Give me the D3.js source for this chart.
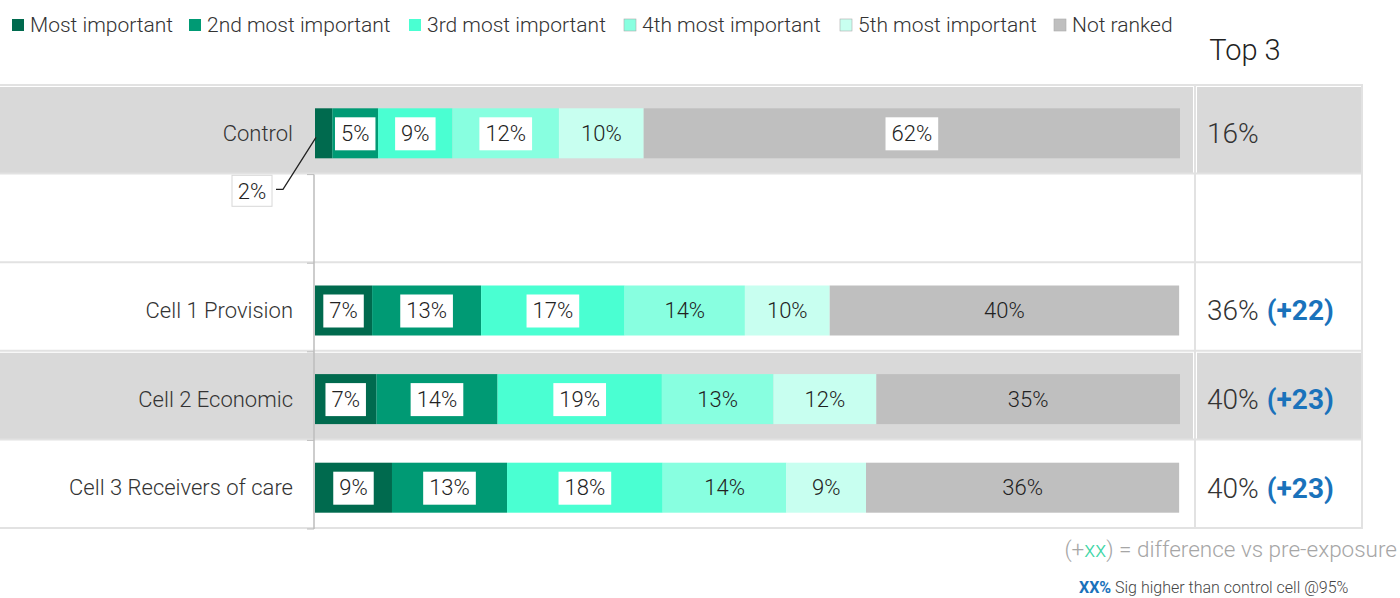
<!DOCTYPE html>
<html><head><meta charset="utf-8">
<script src="https://cdn.jsdelivr.net/npm/d3@7"></script>
<style>
body{margin:0;background:#fff}
svg{display:block}
text{font-family:Roboto,"DejaVu Sans",sans-serif;font-weight:300}
</style>
</head><body><svg id="c" width="1400" height="598"></svg>
<script>
const categories = ["Control", "", "Cell 1 Provision", "Cell 2 Economic", "Cell 3 Receivers of care"];
const seriesNames = ["Most important", "2nd most important", "3rd most important", "4th most important", "5th most important", "Not ranked"];
// shares (%); labels show them rounded
const mostImportant = [2.0, null, 6.6, 7.1, 8.9];
const secondImportant = [5.3, null, 12.6, 14.0, 13.3];
const thirdImportant = [8.6, null, 16.6, 19.0, 18.0];
const fourthImportant = [12.3, null, 13.9, 12.9, 14.3];
const fifthImportant = [9.8, null, 9.8, 11.9, 9.2];
const notRanked = [62.0, null, 40.4, 35.1, 36.2];
const top3Values = ["16%", "", "36%", "40%", "40%"];
const top3Diff = ["", "", "(+22)", "(+23)", "(+23)"];
const shadedRows = [0, 3];
const boxedLabels = [
  [false, true, true, true, false, true],
  [],
  [true, true, true, false, false, false],
  [true, true, true, false, false, false],
  [true, true, true, false, false, false]
];
const colors = ["#006a4e", "#009a74", "#4affd2", "#88ffe0", "#c8fff0", "#bfbfbf"];
const series = [mostImportant, secondImportant, thirdImportant, fourthImportant, fifthImportant, notRanked];

const svg = d3.select("#c");
const tableTop = 86, tableBottom = 529;
const barLeft = 315, barRight = 1180, colSep = 1195, tableRight = 1362;
const gridColor = "#e2e2e2";
const rowShift = 3;

const y = d3.scaleBand().domain(d3.range(categories.length)).range([tableTop, tableBottom]);
const x = d3.scaleLinear().domain([0, 100]).range([barLeft, barRight]);
const barH = 50;
const fmt = d3.format(".0f");

// row shading
shadedRows.forEach(i => {
  svg.append("rect").attr("x", 0).attr("y", y(i)+1).attr("width", colSep - 2).attr("height", y.bandwidth()-2).attr("fill", "#d9d9d9");
  svg.append("rect").attr("x", colSep + 2).attr("y", y(i)+1).attr("width", tableRight - colSep - 3).attr("height", y.bandwidth()-2).attr("fill", "#d9d9d9");
});

// grid lines
d3.range(categories.length + 1).forEach(i => {
  const yy = i < categories.length ? y(i) : tableBottom;
  svg.append("line").attr("x1", 0).attr("x2", tableRight).attr("y1", yy - 1).attr("y2", yy - 1)
    .attr("stroke", gridColor).attr("stroke-width", 2);
});
svg.append("line").attr("x1", colSep).attr("x2", colSep).attr("y1", tableTop - 2).attr("y2", tableBottom)
  .attr("stroke", gridColor).attr("stroke-width", 2);
svg.append("line").attr("x1", tableRight).attr("x2", tableRight).attr("y1", tableTop - 2).attr("y2", tableBottom)
  .attr("stroke", gridColor).attr("stroke-width", 2);

// axis line
svg.append("line").attr("x1", barLeft - 1).attr("x2", barLeft - 1).attr("y1", y(1)).attr("y2", tableBottom)
  .attr("stroke", "#bdbdbd").attr("stroke-width", 1.5);
d3.range(1, categories.length + 1).forEach(i => {
  const yy = i < categories.length ? y(i) : tableBottom;
  svg.append("line").attr("x1", barLeft - 8).attr("x2", barLeft - 1).attr("y1", yy).attr("y2", yy)
    .attr("stroke", "#bdbdbd").attr("stroke-width", 1);
});

// bars
categories.forEach((cat, i) => {
  const vals = series.map(s => s[i]);
  const cy = y(i) + y.bandwidth() / 2 + rowShift;
  if (cat) {
    svg.append("text").attr("x", 293).attr("y", cy).attr("dy", "0.35em").attr("text-anchor", "end")
      .attr("font-size", 22).attr("fill", "#333").text(cat);
  }
  if (vals[0] == null) return;
  let acc = 0;
  const segs = vals.map((v, k) => { const s = {k, v, x0: acc, x1: acc + v}; acc += v; return s; });
  const g = svg.append("g");
  g.selectAll("rect").data(segs).join("rect")
    .attr("x", d => x(d.x0)).attr("y", cy - barH/2)
    .attr("width", d => x(d.x1) - x(d.x0)).attr("height", barH)
    .attr("fill", d => colors[d.k]);
  segs.forEach(d => {
    const mx = (x(d.x0) + x(d.x1)) / 2;
    const label = fmt(d.v) + "%";
    if (i === 0 && d.k === 0) {
      const lx = 252, ly = cy + 58;
      svg.append("path").attr("d", `M${x(d.x0)+1},${cy+4} L${lx+31},${ly - 2} L${lx+24},${ly - 2}`)
        .attr("fill", "none").attr("stroke", "#222").attr("stroke-width", 1.3);
      svg.append("rect").attr("x", lx - 20).attr("y", ly - 16).attr("width", 40).attr("height", 31)
        .attr("fill", "#fff").attr("stroke", "#d8d8d8").attr("stroke-width", 1);
      svg.append("text").attr("x", lx).attr("y", ly).attr("dy", "0.35em").attr("text-anchor", "middle")
        .attr("font-size", 22).attr("fill", "#222").text(label);
      return;
    }
    const t = svg.append("text").attr("x", mx).attr("y", cy).attr("dy", "0.35em").attr("text-anchor", "middle")
      .attr("font-size", 22).attr("fill", "#222").text(label);
    if (boxedLabels[i][d.k]) {
      const w = t.node().getComputedTextLength() + 12;
      svg.insert("rect", () => t.node()).attr("x", mx - w/2).attr("y", cy - 16).attr("width", w).attr("height", 33)
        .attr("fill", "#fff");
    }
  });
});

// top 3 column
svg.append("text").attr("x", 1245).attr("y", 50).attr("dy", "0.35em").attr("text-anchor", "middle")
  .attr("font-size", 29).attr("fill", "#222").text("Top 3");
categories.forEach((c, i) => {
  if (!top3Values[i]) return;
  const cy = y(i) + y.bandwidth() / 2 + rowShift;
  const t = svg.append("text").attr("x", 1207).attr("y", cy).attr("dy", "0.35em").attr("font-size", 28).attr("fill", "#333");
  t.append("tspan").text(top3Values[i]);
  if (top3Diff[i]) t.append("tspan").attr("dx", 8).attr("fill", "#1a72bb").attr("font-weight", 700).text(top3Diff[i]);
});

// legend
const legendX = [12, 189, 409, 624, 840, 1054];
seriesNames.forEach((n, k) => {
  svg.append("rect").attr("x", legendX[k]).attr("y", 19).attr("width", 12).attr("height", 12)
    .attr("fill", colors[k]).attr("stroke", k >= 3 ? "#aaa" : "none").attr("stroke-width", 0.6);
  svg.append("text").attr("x", legendX[k] + 18).attr("y", 25).attr("dy", "0.35em")
    .attr("font-size", 21).attr("fill", "#333").text(n);
});

// footnotes
const f1 = svg.append("text").attr("x", 1397).attr("y", 549).attr("dy", "0.35em").attr("text-anchor", "end")
  .attr("font-size", 22.5).attr("fill", "#a6a6a6");
f1.append("tspan").text("(+");
f1.append("tspan").attr("fill", "#3ed6a6").text("xx");
f1.append("tspan").text(") = difference vs pre-exposure");
const f2 = svg.append("text").attr("x", 1079).attr("y", 593).attr("font-size", 16).attr("fill", "#444");
f2.append("tspan").attr("fill", "#1a72bb").attr("font-weight", 700).text("XX%");
f2.append("tspan").text(" Sig higher than control cell @95%");
</script>
</body></html>
